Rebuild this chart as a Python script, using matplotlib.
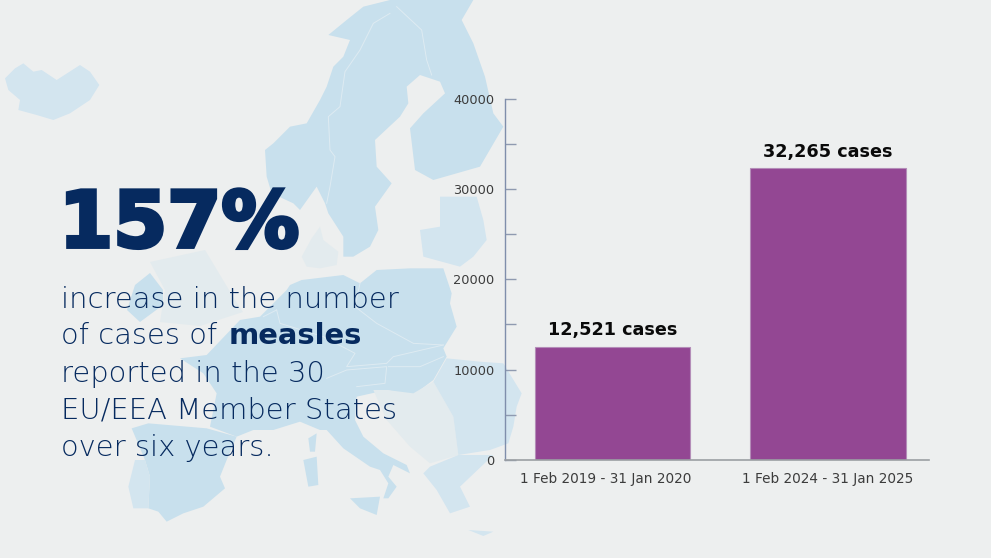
import matplotlib
matplotlib.use("Agg")
import matplotlib.pyplot as plt
import matplotlib.patheffects as pe
from matplotlib.patches import Polygon
from matplotlib.transforms import ScaledTranslation

categories = ["1 Feb 2019 - 31 Jan 2020", "1 Feb 2024 - 31 Jan 2025"]
cases = [12521, 32265]
bar_labels = ["12,521 cases", "32,265 cases"]
y_ticks = [0, 10000, 20000, 30000, 40000]
y_minor = [5000, 15000, 25000, 35000]

W, H = 991, 558
BG = "#edefef"
LAND = "#c8e0ed"
PALE = "#d3e5ef"
LIGHT = "#e3ebee"
EDGE = "#deebf2"
NAVY = "#062a5f"
plt.rcParams["font.family"] = "DejaVu Sans"

fig = plt.figure(figsize=(W/100, H/100), dpi=100, facecolor=BG)

# Decorative background map (outline traced in pixel space of two reference crops)
bg = fig.add_axes([0, 0, 1, 1])
bg.set_xlim(0, W); bg.set_ylim(H, 0); bg.axis("off")

def north(pts):
    return [(x/3, y/3) for x, y in pts]

def south(pts):
    return [(60 + x/3, 260 + y/3) for x, y in pts]

iceland = north([(15,235),(45,205),(70,190),(100,215),(125,210),(170,240),(240,195),(270,215),(298,255),(270,300),(210,340),(160,360),(110,345),(55,330),(60,300),(25,270)])
nordic = north([(1170,0),(1090,20),(1040,60),(985,105),(1050,120),(1030,170),(1000,200),(980,260),(960,300),(920,370),(870,380),(820,430),(795,450),(800,530),(815,580),(880,610),(900,630),(950,560),(975,610),(985,640),(1030,710),(1030,770),(1060,770),(1110,740),(1135,690),(1125,620),(1175,550),(1130,500),(1125,420),(1200,350),(1225,310),(1220,260),(1260,225),(1320,245),(1335,280),(1270,340),(1230,385),(1245,510),(1300,540),(1440,500),(1510,380),(1480,340),(1455,230),(1420,130),(1385,60),(1420,0)])
denmark = north([(905,770),(935,715),(960,680),(970,720),(1015,755),(1010,795),(960,805),(920,800)])
baltics = north([(1320,590),(1430,590),(1450,660),(1460,720),(1420,770),(1380,800),(1270,770),(1260,690),(1320,680)])
main = south([(360,295),(440,285),(540,180),(600,170),(680,90),(690,75),(725,60),(850,45),(900,70),(950,30),(1050,25),(1150,25),(1175,100),(1170,130),(1190,200),(1150,265),(1160,290),(1120,360),(1060,405),(980,390),(890,410),(885,480),(910,530),(970,580),(1040,615),(1050,640),(1000,615),(985,650),(1010,680),(985,715),(970,715),(985,670),(960,630),(930,620),(850,565),(800,510),(780,510),(720,485),(640,510),(580,510),(530,530),(450,500),(470,400),(430,340)])
iberia = south([(215,505),(265,490),(440,505),(530,530),(500,600),(480,650),(495,685),(430,740),(370,760),(320,785),(295,755),(265,745),(270,650),(255,600)])
portugal = south([(255,600),(270,650),(265,745),(220,745),(205,680),(225,600)])
balkans = south([(1060,400),(1120,365),(1180,470),(1195,585),(1110,610),(1050,560),(980,480),(940,390),(980,390)])
romania = south([(1120,365),(1160,295),(1260,305),(1330,310),(1385,400),(1370,440),(1360,500),(1345,550),(1290,570),(1195,585),(1180,470)])
greece = south([(1110,620),(1195,585),(1300,585),(1200,680),(1230,740),(1170,760),(1130,690),(1090,640)])
sicily = south([(870,715),(960,710),(950,765),(900,745)])
sardinia = south([(730,600),(770,590),(775,675),(745,680)])
corsica = south([(745,535),(770,520),(765,575),(750,575)])
crete = south([(1225,810),(1300,815),(1270,828)])
ireland = [(127,310),(135,285),(150,273),(163,290),(163,305),(140,322)]
britain = [(150,262),(205,250),(235,300),(243,312),(200,326),(160,322),(165,290)]

shapes = [(iceland, PALE), (nordic, LAND), (denmark, LIGHT), (baltics, PALE), (main, LAND),
          (iberia, LAND), (portugal, PALE), (balkans, LIGHT), (romania, PALE), (greece, PALE),
          (sicily, LAND), (sardinia, LAND), (corsica, LAND), (crete, PALE), (britain, LIGHT), (ireland, LAND)]
for pts, c in shapes:
    bg.add_patch(Polygon(pts, closed=True, fc=c, ec="none"))

borders = [
    north([(1170,40),(1120,70),(1080,150),(1035,215),(1020,320),(985,350),(990,450),(1005,470),(990,560),(980,610)]),
    north([(1190,20),(1265,90),(1280,180),(1295,225)]),
    south([(900,70),(885,140),(950,190),(1060,250),(1150,255)]),
    south([(650,150),(660,190),(790,230),(885,280),(860,320),(980,310),(1000,290),(1150,255)]),
    south([(985,320),(1080,320),(1150,290)]),
    south([(800,355),(860,330),(980,320),(975,370),(890,380)]),
    south([(650,150),(610,170)]),
]
for pts in borders:
    bg.plot(*zip(*pts), color=EDGE, lw=0.7)

# Headline text
bg.text(59, 247, "157%", fontsize=56, fontweight="bold", color=NAVY, va="baseline", ha="left",
        path_effects=[pe.withStroke(linewidth=2.8, foreground=NAVY, joinstyle="miter")])
SIZE = 20.9
for t, y in [("increase in the number", 307.5), ("of cases of", 344.5), ("reported in the 30", 381.5),
             ("EU/EEA Member States", 418.5), ("over six years.", 456.5)]:
    bg.text(61, y, t, fontsize=SIZE, fontweight="light", color=NAVY, va="baseline", ha="left")
bg.text(229, 344.5, "measles", fontsize=20.9, fontweight="bold", color=NAVY, va="baseline", ha="left")

# Bar chart
left, right, top, bottom = 505, 929, 98.5, 460
ax = fig.add_axes([left/W, 1-bottom/H, (right-left)/W, (bottom-top)/H])
ax.patch.set_alpha(0)
xpos = [0, 1]
ax.bar(xpos, cases, width=0.72, color="#934793", edgecolor="#b48db8", linewidth=0.8)
ax.set_xlim(-0.499, 1.469)
ax.set_ylim(0, 40000)
ax.set_xticks(xpos, categories)
ax.set_yticks(y_ticks)
ax.set_yticks(y_minor, minor=True)
for s in ("top", "right"):
    ax.spines[s].set_visible(False)
ax.spines["left"].set_color("#7f8eab")
ax.spines["left"].set_linewidth(1)
ax.spines["bottom"].set_color("#9b9fa3")
ax.spines["bottom"].set_linewidth(1.2)
ax.tick_params(axis="x", length=0, labelsize=9.8, labelcolor="#3c3c3c", pad=9)
ax.tick_params(axis="y", which="major", direction="in", length=7.7, width=1, color="#8f9ab0", labelsize=9.3, labelcolor="#3c3c3c", pad=7.5)
ax.tick_params(axis="y", which="minor", direction="in", length=7.7, width=1, color="#8f9ab0")
first = ax.get_xticklabels()[0]
first.set_transform(first.get_transform() + ScaledTranslation(-7/100, 0, fig.dpi_scale_trans))
for x, v, s in zip(xpos, cases, bar_labels):
    ax.annotate(s, (x, v), xytext=(0, 5.5), textcoords="offset points", ha="center", va="bottom", fontsize=12.7, fontweight="bold", color="#0a0a0a")

fig.savefig("out.png", dpi=100, facecolor=BG)
